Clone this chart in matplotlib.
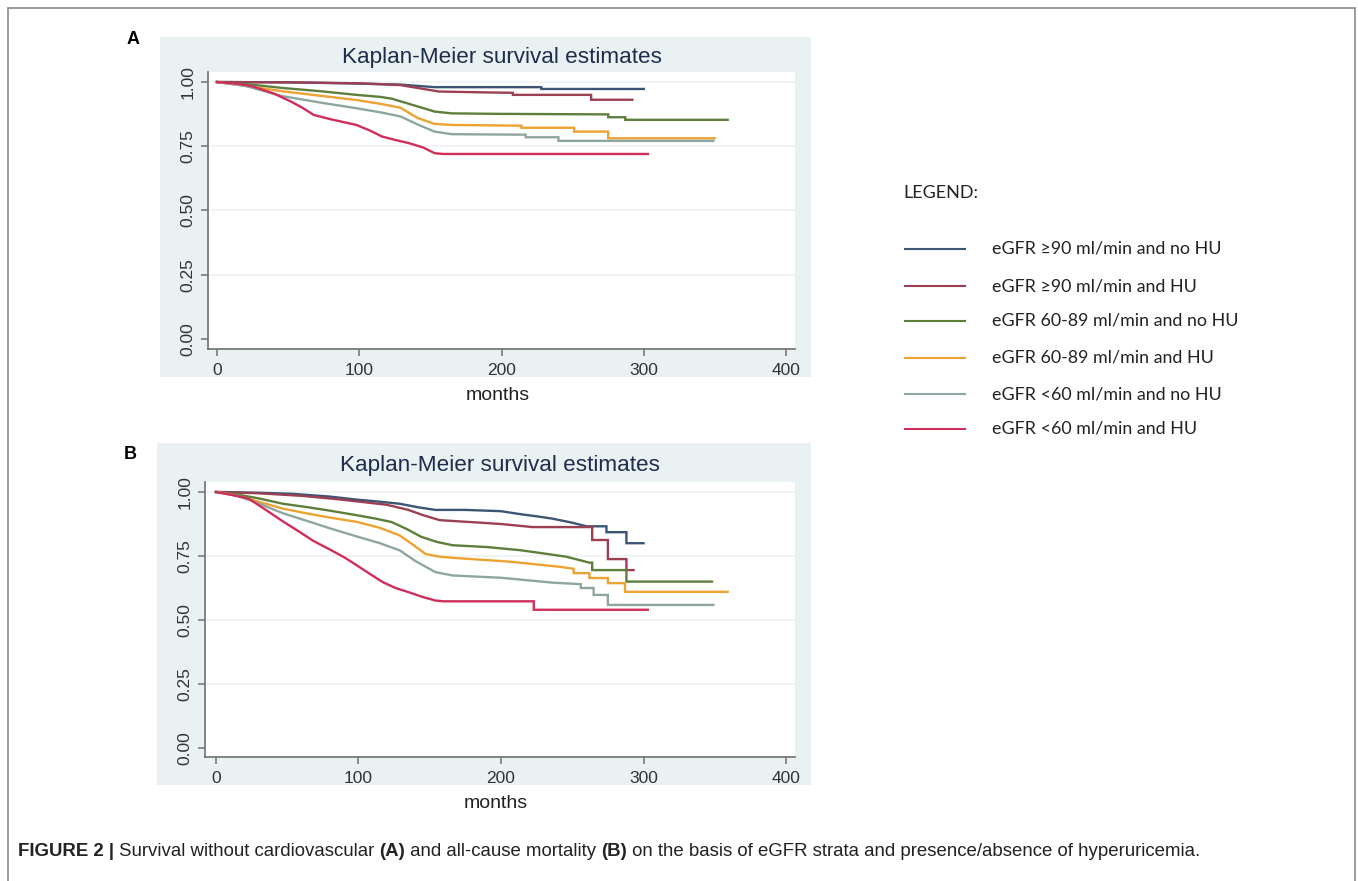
import numpy as np
import matplotlib.pyplot as plt
from matplotlib.patches import Rectangle
from matplotlib.lines import Line2D

# series labels and colours (Stata s2color, a little faded)
labels = ["eGFR \u226590 ml/min and no HU",
          "eGFR \u226590 ml/min and HU",
          "eGFR 60-89 ml/min and no HU",
          "eGFR 60-89 ml/min and HU",
          "eGFR <60 ml/min and no HU",
          "eGFR <60 ml/min and HU"]
colors = ["#3b5675", "#9c3f52", "#5e7f3c", "#eda232", "#8ea6a2", "#d02e5a"]

# Panel A: cardiovascular mortality (repeated times = vertical drops)
a_t_90_no = [0, 50, 90, 129, 153, 228, 228, 300]
a_s_90_no = [1.0, 0.999, 0.995, 0.99, 0.98, 0.98, 0.973, 0.973]
a_t_90_hu = [0, 60, 100, 129, 156, 185, 208, 208, 263, 263, 292]
a_s_90_hu = [1.0, 0.998, 0.995, 0.988, 0.963, 0.96, 0.958, 0.95, 0.95, 0.931, 0.931]
a_t_6089_no = [0, 20, 46, 75, 98, 115, 123, 138, 153, 165, 200, 275, 275, 287, 287, 359]
a_s_6089_no = [1.0, 0.992, 0.977, 0.963, 0.95, 0.942, 0.935, 0.91, 0.885, 0.878, 0.876,
               0.874, 0.863, 0.863, 0.853, 0.853]
a_t_6089_hu = [0, 20, 46, 75, 98, 115, 129, 141, 153, 165, 214, 214, 251, 251, 275, 275, 350]
a_s_6089_hu = [1.0, 0.985, 0.964, 0.945, 0.93, 0.915, 0.90, 0.86, 0.837, 0.833, 0.83, 0.822,
               0.822, 0.807, 0.807, 0.781, 0.781]
a_t_60_no = [0, 20, 46, 75, 98, 115, 129, 141, 153, 165, 217, 217, 240, 240, 349]
a_s_60_no = [1.0, 0.985, 0.945, 0.918, 0.898, 0.882, 0.866, 0.835, 0.807, 0.797, 0.795,
             0.785, 0.785, 0.771, 0.771]
a_t_60_hu = [0, 15, 25, 40, 52, 60, 68, 80, 98, 108, 116, 125, 135, 145, 153, 159, 303]
a_s_60_hu = [1.0, 0.993, 0.983, 0.955, 0.924, 0.9, 0.872, 0.855, 0.833, 0.81, 0.788, 0.775,
             0.762, 0.745, 0.723, 0.72, 0.72]

# Panel B: all-cause mortality
b_t_90_no = [0, 30, 53, 80, 99, 115, 129, 142, 154, 175, 200, 214, 225, 236, 250, 260, 274,
             274, 288, 288, 300]
b_s_90_no = [1.0, 0.997, 0.993, 0.982, 0.97, 0.962, 0.954, 0.94, 0.93, 0.93, 0.925, 0.913,
             0.905, 0.896, 0.88, 0.866, 0.866, 0.843, 0.843, 0.80, 0.80]
b_t_90_hu = [0, 30, 60, 85, 101, 120, 135, 145, 157, 180, 200, 222, 264, 264, 275, 275, 288,
             288, 293]
b_s_90_hu = [1.0, 0.995, 0.985, 0.972, 0.962, 0.95, 0.93, 0.91, 0.89, 0.882, 0.875, 0.863,
             0.863, 0.8125, 0.8125, 0.738, 0.738, 0.695, 0.695]
b_t_6089_no = [0, 15, 30, 47, 65, 80, 99, 112, 123, 134, 144, 155, 166, 190, 213, 230, 246,
               262, 264, 264, 288, 288, 348]
b_s_6089_no = [1.0, 0.99, 0.975, 0.954, 0.94, 0.927, 0.909, 0.896, 0.883, 0.855, 0.825, 0.805,
               0.792, 0.785, 0.773, 0.76, 0.747, 0.724, 0.724, 0.695, 0.695, 0.65, 0.65]
b_t_6089_hu = [0, 15, 30, 47, 65, 80, 99, 115, 129, 138, 147, 156, 166, 206, 241, 251, 251,
               262, 262, 275, 275, 287, 287, 359]
b_s_6089_hu = [1.0, 0.985, 0.962, 0.935, 0.915, 0.9, 0.883, 0.86, 0.83, 0.795, 0.758, 0.748,
               0.743, 0.728, 0.708, 0.7, 0.683, 0.683, 0.664, 0.664, 0.644, 0.644, 0.61, 0.61]
b_t_60_no = [0, 15, 30, 47, 65, 80, 99, 115, 129, 140, 154, 166, 200, 236, 256, 256, 265,
             265, 275, 275, 349]
b_s_60_no = [1.0, 0.985, 0.955, 0.917, 0.885, 0.858, 0.826, 0.8, 0.772, 0.73, 0.687, 0.674,
             0.665, 0.646, 0.64, 0.625, 0.625, 0.598, 0.598, 0.559, 0.559]
b_t_60_hu = [0, 10, 23, 35, 47, 57, 68, 80, 90, 99, 108, 117, 126, 135, 145, 154, 160, 223,
             223, 303]
b_s_60_hu = [1.0, 0.99, 0.974, 0.93, 0.885, 0.85, 0.81, 0.775, 0.745, 0.713, 0.68, 0.648,
             0.625, 0.609, 0.59, 0.576, 0.573, 0.573, 0.54, 0.54]

x_ticks = [0, 100, 200, 300, 400]
y_ticks = [0.0, 0.25, 0.5, 0.75, 1.0]
y_ticklabels = ["0.00", "0.25", "0.50", "0.75", "1.00"]

panel_a = [(a_t_90_no, a_s_90_no), (a_t_90_hu, a_s_90_hu), (a_t_6089_no, a_s_6089_no),
           (a_t_6089_hu, a_s_6089_hu), (a_t_60_no, a_s_60_no), (a_t_60_hu, a_s_60_hu)]
panel_b = [(b_t_90_no, b_s_90_no), (b_t_90_hu, b_s_90_hu), (b_t_6089_no, b_s_6089_no),
           (b_t_6089_hu, b_s_6089_hu), (b_t_60_no, b_s_60_no), (b_t_60_hu, b_s_60_hu)]

W, H = 1358, 881
fig = plt.figure(figsize=(W / 100, H / 100), dpi=100)
plt.rcParams['font.family'] = ['Liberation Sans', 'DejaVu Sans']


def fx(px):
    return px / W


def fy(py):
    return 1 - py / H


# outer frame
fig.add_artist(Rectangle((fx(8), fy(900)), fx(1355) - fx(8), fy(8) - fy(900),
                         transform=fig.transFigure, fill=False, ec="#8a8a8a", lw=1.2))

bg = "#e9f1f3"
axis_col = "#707070"


def km_panel(curves, box, plot, xlim, ylim, title_y, months_y, letter, letter_xy):
    # grey Stata background
    x0, y0, x1, y1 = box
    fig.add_artist(Rectangle((fx(x0), fy(y1)), fx(x1) - fx(x0), fy(y0) - fy(y1),
                             transform=fig.transFigure, color=bg, lw=0, zorder=0))
    px0, py0, px1, py1 = plot
    ax = fig.add_axes([fx(px0), fy(py1), fx(px1) - fx(px0), fy(py0) - fy(py1)])
    ax.set_facecolor("white")
    for (t, s), c in zip(curves, colors):
        ax.plot(t, s, color=c, lw=1.7, solid_joinstyle="miter")
    ax.set_xlim(*xlim)
    ax.set_ylim(*ylim)
    ax.set_xticks(x_ticks)
    ax.set_yticks(y_ticks)
    ax.set_yticklabels(y_ticklabels, rotation=90, va="center")
    for yv in y_ticks[1:]:
        ax.axhline(yv, color="#eef2f3", lw=1.2, zorder=0)
    for side in ["top", "right"]:
        ax.spines[side].set_visible(False)
    for side in ["left", "bottom"]:
        ax.spines[side].set_color(axis_col)
        ax.spines[side].set_linewidth(1.2)
    ax.tick_params(colors=axis_col, length=5, width=1.1, labelsize=12.5,
                   labelcolor="#333333", pad=4)
    ax.tick_params(axis="x", pad=5)
    cx = (px0 + px1) / 2
    fig.text(fx(cx), fy(title_y), "Kaplan-Meier survival estimates", ha="center",
             va="center", fontsize=16.2, color="#1f2d4d")
    fig.text(fx(cx - 4), fy(months_y), "months", ha="center", va="center",
             fontsize=14, color="#222222")
    fig.text(fx(letter_xy[0]), fy(letter_xy[1]), letter, ha="center", va="center",
             fontsize=13, fontweight="bold", color="black")
    return ax


km_panel(panel_a, (160, 37, 811, 377), (208, 72, 795, 349), (-6.3, 406.3), (-0.039, 1.039),
         57, 395, "A", (133, 40))
km_panel(panel_b, (157, 443, 811, 785), (205, 482, 795, 757), (-7.7, 406.3), (-0.035, 1.039),
         465, 803, "B", (130, 455))

# legend drawn as in the source figure
fig.text(fx(903), fy(193), "LEGEND:", ha="left", va="center", fontsize=13,
         color="#222222", family=["Lato", "DejaVu Sans"])
leg_y = [249, 286, 321, 358, 394, 429]
for lab, c, yy in zip(labels, colors, leg_y):
    fig.add_artist(Line2D([fx(905), fx(965)], [fy(yy), fy(yy)], color=c, lw=1.5,
                          transform=fig.transFigure))
    fig.text(fx(992), fy(yy), lab, ha="left", va="center", fontsize=12.9,
             color="#222222", family=["Lato", "DejaVu Sans"])

# caption, built piece by piece so the bold parts sit inline
caption = [("FIGURE 2 | ", "bold"), ("Survival without cardiovascular ", "normal"),
           ("(A)", "bold"), (" and all-cause mortality ", "normal"), ("(B)", "bold"),
           (" on the basis of eGFR strata and presence/absence of hyperuricemia.", "normal")]
renderer = fig.canvas.get_renderer()
xpos = 18
for txt, wt in caption:
    t = fig.text(fx(xpos), fy(851), txt, ha="left", va="center", fontsize=13.4,
                 fontweight=wt, color="#222222")
    bb = t.get_window_extent(renderer)
    xpos = bb.x1

fig.savefig("out.png", dpi=100)
